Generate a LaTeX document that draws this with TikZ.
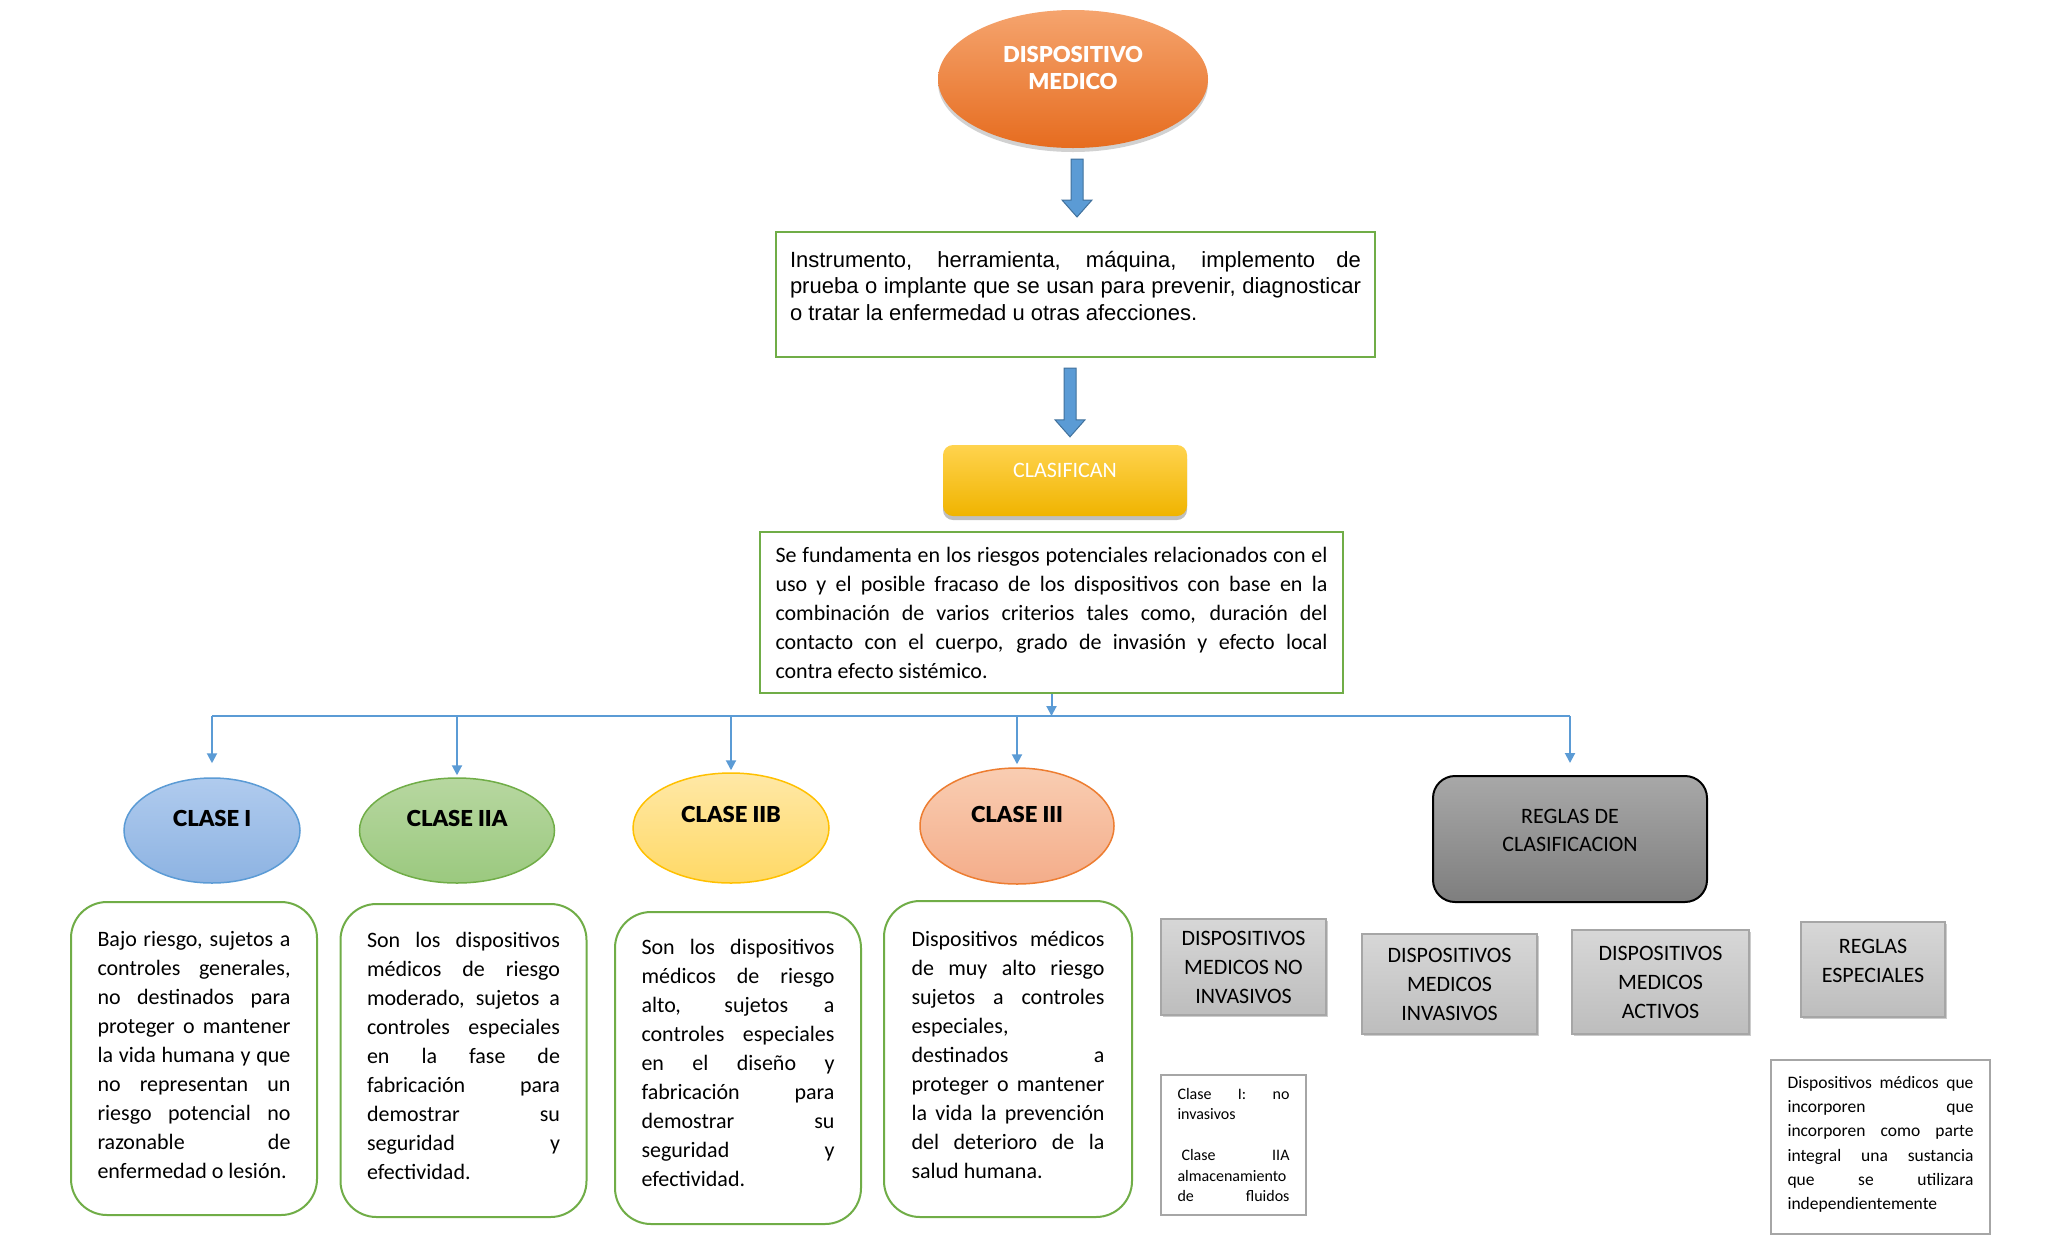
\documentclass[tikz,border=0pt]{standalone}
\usepackage{fontspec}
\setmainfont{Carlito}
\newfontfamily\arialf{Liberation Sans}
\newfontfamily\heavyf{Lato Black}
\usepackage{tikz}
\usetikzlibrary{positioning,arrows.meta,calc,shapes.geometric,shadows}
\definecolor{oraT}{HTML}{F5A46E}
\definecolor{oraB}{HTML}{E66C1F}
\definecolor{arrfill}{HTML}{5B9BD5}
\definecolor{arrline}{HTML}{41719C}
\definecolor{grn}{HTML}{70AD47}
\definecolor{golT}{HTML}{FFD34E}
\definecolor{golB}{HTML}{F0B400}
\definecolor{bluT}{HTML}{B0CBEE}
\definecolor{bluB}{HTML}{8DB3E2}
\definecolor{bluL}{HTML}{5B9BD5}
\definecolor{grnT}{HTML}{B7D7A0}
\definecolor{grnB}{HTML}{9BC97F}
\definecolor{yelT}{HTML}{FFE8A6}
\definecolor{yelB}{HTML}{FFD966}
\definecolor{yelL}{HTML}{FFC000}
\definecolor{salT}{HTML}{F9CDB2}
\definecolor{salB}{HTML}{F4AD8A}
\definecolor{salL}{HTML}{ED7D31}
\definecolor{regT}{HTML}{A8A8A8}
\definecolor{regB}{HTML}{7E7E7E}
\definecolor{gryT}{HTML}{D7D7D7}
\definecolor{gryB}{HTML}{BDBDBD}
\definecolor{gryL}{HTML}{A6A6A6}
\newcommand{\fsz}[2]{\fontsize{#1}{#2}\selectfont}
\newcommand{\nohy}{\hyphenpenalty=10000\exhyphenpenalty=10000\sloppy}
\tikzset{
  topel/.style={ellipse, top color=oraT, bottom color=oraB, minimum width=270pt, minimum height=138pt,
                inner sep=0pt, align=center, text=white, font=\heavyf\fsz{22}{27}, text depth=23pt,
                drop shadow={shadow xshift=0pt, shadow yshift=-4pt, opacity=.18, fill=black}},
  defbox/.style={draw=grn, line width=2pt, fill=white, inner sep=0pt, minimum width=599pt,
                 minimum height=125pt, text width=571pt, align=justify, text depth=71pt,
                 font=\arialf\nohy\fsz{22}{26.5}},
  clasbox/.style={rounded corners=10pt, top color=golT, bottom color=golB, minimum width=244pt,
                  minimum height=71pt, text=white, font=\fsz{22}{26}, text depth=21pt,
                  drop shadow={shadow xshift=0pt, shadow yshift=-4pt, opacity=.25, fill=black}},
  fundbox/.style={draw=grn, line width=2pt, fill=white, inner sep=0pt, minimum width=583pt,
                  minimum height=161pt, text width=552pt, align=justify, font=\nohy\fsz{22}{29}},
  % ---- classes ----
  clase/.style={ellipse, line width=1.5pt, inner sep=0pt, font=\heavyf\fsz{22}{26}, text depth=25pt,
                minimum height=105pt},
  desc/.style={draw=grn, line width=2pt, rounded corners=36pt, fill=white, inner sep=0pt,
               minimum width=246pt, minimum height=313pt, text width=193pt, align=justify,
               text depth=241pt, font=\nohy\fsz{22}{29}},
  % ---- rules ----
  regla/.style={draw=black, line width=2pt, rounded corners=22pt, top color=regT, bottom color=regB,
                minimum width=274pt, minimum height=126pt, align=center, text depth=18pt,
                font=\fsz{22}{28}},
  sub/.style={draw=gryL, line width=1.5pt, top color=gryT, bottom color=gryB, align=center,
              font=\fsz{22}{29}, inner sep=0pt,
              drop shadow={shadow xshift=2pt, shadow yshift=-2pt, opacity=.2, fill=black}},
  note/.style={draw=gryL, line width=1.5pt, fill=white, inner sep=0pt, align=justify},
  % ---- connectors ----
  barrow/.style={draw=arrline, fill=arrfill, line width=1pt,
    to path={($(\tikztostart)+(-6,0)$) -- ($(\tikztotarget)+(-6,-17)$) -- ($(\tikztotarget)+(-15,-17)$)
             -- (\tikztotarget) -- ($(\tikztotarget)+(15,-17)$) -- ($(\tikztotarget)+(6,-17)$)
             -- ($(\tikztostart)+(6,0)$) -- cycle}},
  tree/.style={draw=arrfill, line width=2pt},
  conn/.style={-{Triangle[length=10pt,width=10pt]}, draw=arrfill, fill=arrfill, line width=2pt},
}

\begin{document}
\begin{tikzpicture}[x=1pt,y=-1pt]
\useasboundingbox (0,0) rectangle (2048,1243);
\fill[white] (0,0) rectangle (2048,1243);
% top of the map
\node[topel] (top) at (1073,79) {DISPOSITIVO\\MEDICO};
\node[defbox] (def) at (1075.5,294.5) {Instrumento, herramienta, máquina, implemento de\linebreak
  prueba o implante que se usan para prevenir, diagnosticar\linebreak
  o tratar la enfermedad u otras afecciones.};
\node[clasbox] (clas) at (1065,480.5) {CLASIFICAN};
\node[fundbox] (fund) at (1051.5,612.5) {Se fundamenta en los riesgos potenciales relacionados con el\linebreak
  uso y el posible fracaso de los dispositivos con base en la\linebreak
  combinación de varios criterios tales como, duración del\linebreak
  contacto con el cuerpo, grado de invasión y efecto local\linebreak
  contra efecto sistémico.};
% classes
\node[clase, draw=bluL, top color=bluT, bottom color=bluB, minimum width=176pt] (c1) at (212,830.5) {CLASE I};
\node[clase, draw=grn, top color=grnT, bottom color=grnB, minimum width=195pt] (c2) at (457,830.5) {CLASE IIA};
\node[clase, draw=yelL, top color=yelT, bottom color=yelB, minimum width=196pt, minimum height=110pt,
      text depth=28pt] (c3) at (731,828) {CLASE IIB};
\node[clase, draw=salL, top color=salT, bottom color=salB, minimum width=194pt, minimum height=116pt,
      text depth=24pt] (c4) at (1017,826) {CLASE III};
\node[regla] (reg) at (1570,839) {REGLAS DE\\CLASIFICACION};
% descriptions
\node[desc, text depth=240pt] (d1) at (194,1058.5) {Bajo riesgo, sujetos a\linebreak controles generales,\linebreak
  no destinados para\linebreak proteger o mantener\linebreak la vida humana y que\linebreak
  no representan un\linebreak riesgo potencial no\linebreak razonable de\linebreak enfermedad o lesión.};
\node[desc, text depth=242pt] (d2) at (463.5,1060.5) {Son los dispositivos\linebreak médicos de riesgo\linebreak
  moderado, sujetos a\linebreak controles especiales\linebreak en la fase de\linebreak
  fabricación para\linebreak demostrar su\linebreak seguridad y\linebreak efectividad.};
\node[desc, minimum height=312pt, text depth=242pt] (d3) at (738,1068) {Son los dispositivos\linebreak médicos de riesgo\linebreak
  alto, sujetos a\linebreak controles especiales\linebreak en el diseño y\linebreak
  fabricación para\linebreak demostrar su\linebreak seguridad y\linebreak efectividad.};
\node[desc, minimum width=248pt, minimum height=316pt, text depth=240pt] (d4) at (1008,1059) {Dispositivos médicos\linebreak
  de muy alto riesgo\linebreak sujetos a controles\linebreak especiales,\newline destinados a\linebreak
  proteger o mantener\linebreak la vida la prevención\linebreak del deterioro de la\linebreak salud humana.};
% rule groups
\node[sub, minimum width=165pt, minimum height=96pt] (g1) at (1243.5,967) {DISPOSITIVOS\\MEDICOS NO\\INVASIVOS};
\node[sub, minimum width=175pt, minimum height=100pt] (g2) at (1449.5,984) {DISPOSITIVOS\\MEDICOS\\INVASIVOS};
\node[sub, minimum width=177pt, minimum height=104pt] (g3) at (1660.5,982) {DISPOSITIVOS\\MEDICOS\\ACTIVOS};
\node[sub, minimum width=144pt, minimum height=95pt, text depth=18pt] (g4) at (1873,969.5) {REGLAS\\ESPECIALES};
\node[note, minimum width=145pt, minimum height=140pt, text width=112pt, font=\nohy\fsz{16}{20.4}] (n1)
  at (1233.5,1145) {Clase I: no\linebreak invasivos\newline\mbox{}\newline\hspace*{4pt}Clase IIA\linebreak
  almacenamiento\linebreak de\hfill fluidos};
\node[note, minimum width=219pt, minimum height=174pt, text width=186pt, text depth=129pt,
      font=\nohy\fsz{17.5}{24.2}] (n2) at (1880.5,1147) {Dispositivos médicos que\linebreak
  incorporen que\linebreak incorporen como parte\linebreak integral una sustancia\linebreak
  que se utilizara\linebreak independientemente};
% block arrows
\draw[barrow] ([xshift=4pt,yshift=-11pt]top.south) to ([xshift=1.5pt,yshift=14pt]def.north);
\draw[barrow] ([xshift=-5.5pt,yshift=-10pt]def.south) to ([xshift=5pt,yshift=8pt]clas.north);
% tree
\coordinate (bar) at (1051.5,716);
\draw[conn] (fund.south) -- (bar);
\draw[tree] (c1.north |- bar) -- (reg.north |- bar);
\foreach \n/\g in {c1/14,c2/2,c3/2,c4/3,reg/12}
  \draw[conn] (\n.north |- bar) -- ([yshift=\g pt]\n.north);
\end{tikzpicture}
\end{document}
